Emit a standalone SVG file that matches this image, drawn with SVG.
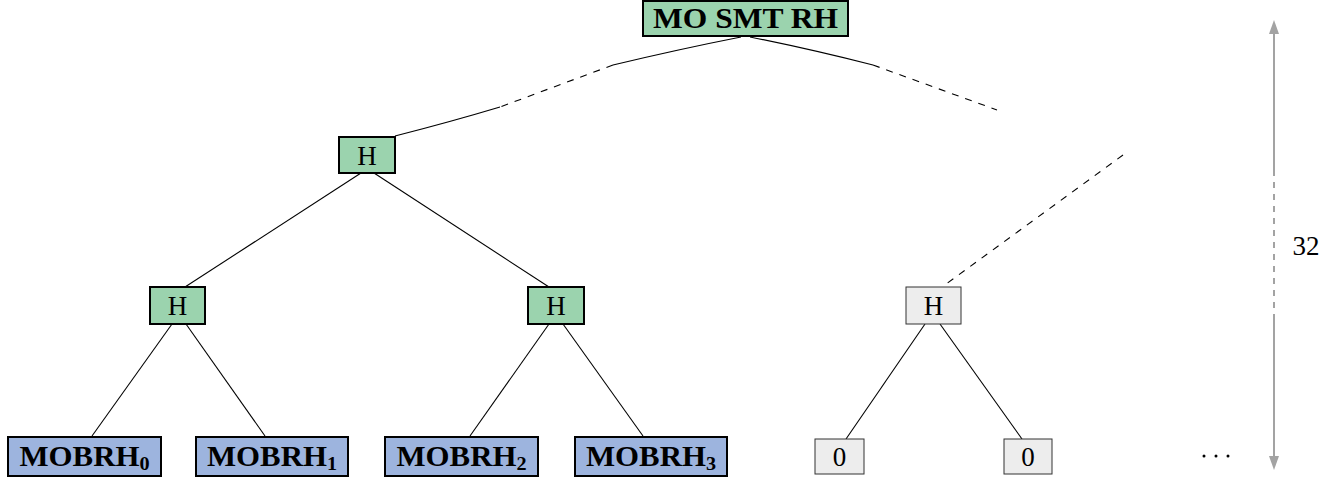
<svg xmlns="http://www.w3.org/2000/svg" width="1338" height="477" viewBox="0 0 1338 477">
<defs>
<style>
.g{fill:#9bd3ae;stroke:#000;stroke-width:2}
.b{fill:#9db4de;stroke:#000;stroke-width:2}
.w{fill:#ededed;stroke:#333;stroke-width:1}
.t{font-family:"Liberation Serif","DejaVu Serif",serif;font-size:27px;fill:#000;text-anchor:middle}
.tb{font-family:"Liberation Serif","DejaVu Serif",serif;font-size:29px;font-weight:bold;fill:#000;text-anchor:middle}
.sub{font-size:19px}
.e{fill:none;stroke:#000;stroke-width:1.1}
.d{fill:none;stroke:#000;stroke-width:1.1;stroke-dasharray:7 7}
.ga{fill:none;stroke:#a3a3a3;stroke-width:2}
</style>
</defs>
<g id="connectors">
<path class="e" d="M741,37 Q680,49 613,65"/>
<path class="d" d="M613,65 L500,107"/>
<path class="e" d="M500,107 Q450,122 395,136"/>
<path class="e" d="M750,37 Q810,49 873,65"/>
<path class="d" d="M873,65 L997,110"/>
<path class="d" d="M1123,155 L942,287"/>
<path class="e" d="M361,173 L185,287"/>
<path class="e" d="M374,173 L549,287"/>
<path class="e" d="M172,324 L92,436"/>
<path class="e" d="M186,324 L265,436"/>
<path class="e" d="M549,324 L470,436"/>
<path class="e" d="M563,324 L643,436"/>
<path class="e" d="M925,324 L846,439"/>
<path class="e" d="M940,324 L1022,439"/>
</g>
<g id="root"><rect class="g" x="643" y="1" width="205" height="35"/><text class="tb" x="745.5" y="27.5" font-size="27" textLength="185" lengthAdjust="spacingAndGlyphs">MO SMT RH</text></g>
<g id="h1"><rect class="g" x="339" y="137" width="56" height="36"/><text class="t" x="367" y="164.5">H</text></g>
<g id="h2a"><rect class="g" x="150" y="287" width="55" height="37"/><text class="t" x="177.5" y="315">H</text></g>
<g id="h2b"><rect class="g" x="528" y="287" width="56" height="37"/><text class="t" x="556" y="315">H</text></g>
<g id="h2c"><rect class="w" x="906" y="287" width="55" height="37"/><text class="t" x="933.5" y="315">H</text></g>
<g id="leaf0"><rect class="b" x="8" y="437" width="153" height="39"/><text class="tb" x="84.5" y="466" textLength="130" lengthAdjust="spacingAndGlyphs">MOBRH<tspan class="sub" dy="4">0</tspan></text></g>
<g id="leaf1"><rect class="b" x="196" y="437" width="152" height="39"/><text class="tb" x="272" y="466" textLength="130" lengthAdjust="spacingAndGlyphs">MOBRH<tspan class="sub" dy="4">1</tspan></text></g>
<g id="leaf2"><rect class="b" x="385" y="437" width="153" height="39"/><text class="tb" x="461.5" y="466" textLength="130" lengthAdjust="spacingAndGlyphs">MOBRH<tspan class="sub" dy="4">2</tspan></text></g>
<g id="leaf3"><rect class="b" x="575" y="437" width="152" height="39"/><text class="tb" x="651" y="466" textLength="130" lengthAdjust="spacingAndGlyphs">MOBRH<tspan class="sub" dy="4">3</tspan></text></g>
<g id="zero0"><rect class="w" x="815" y="439" width="49" height="35"/><text class="t" x="839.5" y="466">0</text></g>
<g id="zero1"><rect class="w" x="1004" y="439" width="48" height="35"/><text class="t" x="1028" y="466">0</text></g>
<g id="dots"><circle cx="1204" cy="456" r="1.5"/><circle cx="1216" cy="456" r="1.5"/><circle cx="1228" cy="456" r="1.5"/></g>
<g id="depth">
<line class="ga" x1="1274" y1="30" x2="1274" y2="170"/>
<line class="ga" x1="1274" y1="170" x2="1274" y2="317" stroke-dasharray="6 6"/>
<line class="ga" x1="1274" y1="317" x2="1274" y2="458"/>
<polygon points="1274,20 1269,34 1279,34" fill="#a3a3a3"/>
<polygon points="1274,470 1269,456 1279,456" fill="#a3a3a3"/>
<text class="t" x="1306" y="255" font-size="27">32</text>
</g>
</svg>
